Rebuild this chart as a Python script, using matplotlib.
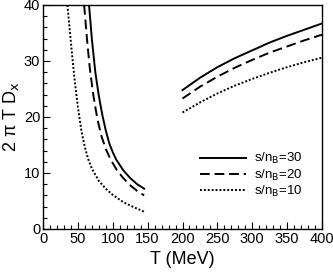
import numpy as np
import matplotlib
matplotlib.use('Agg')
import matplotlib.pyplot as plt
from matplotlib.ticker import MultipleLocator

plt.rcParams['font.family'] = ['Liberation Sans', 'DejaVu Sans']

# hadronic side (low T)
t_lo_30 = [66, 70, 75, 80, 85, 90, 95, 100, 105, 115, 125, 135, 145]
d_lo_30 = [40, 34, 28, 23.8, 20.4, 17.6, 15.3, 13.7, 12.4, 10.5, 9.1, 8.0, 7.2]
t_lo_20 = [59, 63, 67, 72, 78, 84, 90, 97, 106, 115, 125, 135, 145]
d_lo_20 = [40, 34, 28.8, 24, 19.6, 16.5, 14.3, 12.4, 10.5, 9.1, 7.8, 6.8, 6.0]
t_lo_10 = [35, 38, 41, 45, 50, 55, 60, 65, 70, 80, 90, 100, 115, 130, 145]
d_lo_10 = [40, 36, 32, 27, 21.8, 17.6, 14.6, 12.4, 10.8, 8.6, 7.2, 6.1, 4.8, 3.9, 3.1]

# QGP side (high T)
t_hi = [200, 225, 250, 275, 300, 325, 350, 375, 400]
d_hi_30 = [24.8, 27.0, 28.9, 30.5, 31.9, 33.3, 34.5, 35.6, 36.7]
d_hi_20 = [23.3, 25.4, 27.2, 28.8, 30.2, 31.5, 32.6, 33.7, 34.7]
d_hi_10 = [20.8, 22.6, 24.2, 25.6, 26.8, 27.9, 28.9, 29.8, 30.6]

labels = ['s/n$_\\mathrm{B}$=30', 's/n$_\\mathrm{B}$=20', 's/n$_\\mathrm{B}$=10']

fig = plt.figure(figsize=(3.33, 2.73), dpi=100)
ax = fig.add_axes([43/333, 1-229/273, 279/333, 224/273])

lw = 1.4
dash = (0, (5, 2.5))
dot = (0, (1, 1))
ax.plot(t_lo_30, d_lo_30, color='k', lw=lw, ls='-', label=labels[0])
ax.plot(t_lo_20, d_lo_20, color='k', lw=lw, ls=dash, label=labels[1])
ax.plot(t_lo_10, d_lo_10, color='k', lw=lw, ls=dot, label=labels[2])
ax.plot(t_hi, d_hi_30, color='k', lw=lw, ls='-')
ax.plot(t_hi, d_hi_20, color='k', lw=lw, ls=dash)
ax.plot(t_hi, d_hi_10, color='k', lw=lw, ls=dot)

ax.set_xlim(0, 400)
ax.set_ylim(0, 40)
ax.xaxis.set_major_locator(MultipleLocator(50))
ax.xaxis.set_minor_locator(MultipleLocator(10))
ax.yaxis.set_major_locator(MultipleLocator(10))
ax.yaxis.set_minor_locator(MultipleLocator(2))
ax.tick_params(which='both', direction='in', top=False, right=False,
               labelsize=10.5, width=0.8, pad=2)
ax.tick_params(which='major', length=5)
ax.tick_params(which='minor', length=3)
for s in ax.spines.values():
    s.set_linewidth(1.0)

ax.set_xlabel('T (MeV)', fontsize=13, labelpad=4)
ax.set_ylabel('2 \u03c0 T D$_\\mathrm{x}$', fontsize=13, labelpad=2)

ax.legend(loc='center left', bbox_to_anchor=(0.54, 0.24), frameon=False,
          fontsize=9.5, handlelength=3.5, handletextpad=0.6,
          labelspacing=0.1, borderpad=0)

fig.savefig('out.png', dpi=100)
